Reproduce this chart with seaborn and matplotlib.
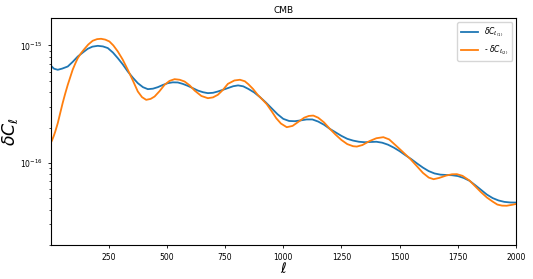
import numpy as np
import pandas as pd
import matplotlib
matplotlib.use("Agg")
import matplotlib.pyplot as plt
import seaborn as sns

# --- values (log10 of delta C_ell) ---
ell_1 = [2, 15, 31, 50, 74, 95, 117, 140, 160, 180, 203, 225, 246, 268, 289, 310,
         332, 354, 375, 397, 418, 440, 461, 483, 504, 525, 547, 568, 590, 612, 633,
         655, 676, 698, 719, 740, 762, 785, 806, 828, 850, 875, 900, 925, 950, 975,
         1000, 1025, 1050, 1075, 1100, 1125, 1150, 1175, 1200, 1225, 1250, 1275,
         1300, 1325, 1350, 1375, 1400, 1425, 1450, 1475, 1500, 1525, 1550, 1575,
         1600, 1625, 1650, 1675, 1700, 1725, 1750, 1775, 1800, 1825, 1850, 1875,
         1900, 1925, 1950, 1975, 2000]
log_dcl_1 = [-15.173, -15.198, -15.207, -15.197, -15.179, -15.14, -15.094, -15.058,
             -15.028, -15.01, -15.003, -15.008, -15.022, -15.06, -15.108, -15.16,
             -15.222, -15.275, -15.321, -15.355, -15.372, -15.368, -15.355, -15.336,
             -15.321, -15.314, -15.315, -15.327, -15.344, -15.364, -15.384, -15.398,
             -15.406, -15.403, -15.392, -15.378, -15.363, -15.347, -15.34, -15.348,
             -15.37, -15.40, -15.44, -15.485, -15.535, -15.585, -15.625, -15.643,
             -15.645, -15.638, -15.63, -15.63, -15.648, -15.675, -15.71, -15.74,
             -15.77, -15.795, -15.81, -15.82, -15.824, -15.822, -15.82, -15.828,
             -15.845, -15.87, -15.9, -15.935, -15.968, -16.005, -16.04, -16.07,
             -16.09, -16.1, -16.103, -16.105, -16.112, -16.128, -16.152, -16.19,
             -16.23, -16.27, -16.3, -16.32, -16.332, -16.337, -16.338]

ell_2 = [2, 6, 13, 20, 31, 41, 52, 63, 74, 85, 95, 106, 117, 130, 145, 162, 181,
         200, 217, 235, 253, 270, 289, 310, 332, 354, 375, 393, 411, 430, 447, 468,
         490, 511, 533, 555, 576, 598, 619, 648, 676, 698, 719, 740, 762, 790, 814,
         835, 850, 870, 890, 910, 929, 950, 970, 990, 1015, 1040, 1065, 1090, 1110,
         1129, 1150, 1175, 1200, 1225, 1250, 1275, 1300, 1316, 1340, 1370, 1400,
         1430, 1455, 1480, 1510, 1545, 1575, 1600, 1625, 1646, 1670, 1700, 1725,
         1746, 1770, 1800, 1825, 1850, 1875, 1900, 1920, 1940, 1960, 1980, 2000]
log_dcl_2 = [-15.825, -15.81, -15.775, -15.735, -15.662, -15.58, -15.491, -15.41,
             -15.335, -15.268, -15.207, -15.155, -15.108, -15.068, -15.031, -14.992,
             -14.96, -14.946, -14.943, -14.95, -14.966, -15.0, -15.051, -15.12,
             -15.207, -15.3, -15.392, -15.44, -15.463, -15.455, -15.435, -15.39,
             -15.335, -15.302, -15.287, -15.292, -15.307, -15.34, -15.384, -15.43,
             -15.449, -15.442, -15.42, -15.38, -15.327, -15.298, -15.292, -15.305,
             -15.33, -15.37, -15.42, -15.46, -15.5, -15.56, -15.62, -15.665, -15.696,
             -15.685, -15.65, -15.615, -15.6, -15.597, -15.615, -15.655, -15.71,
             -15.76, -15.805, -15.84, -15.858, -15.861, -15.848, -15.815, -15.79,
             -15.781, -15.8, -15.845, -15.9, -15.965, -16.03, -16.085, -16.125,
             -16.139, -16.128, -16.108, -16.097, -16.096, -16.11, -16.15, -16.2,
             -16.25, -16.295, -16.33, -16.355, -16.364, -16.365, -16.358, -16.35]

labels = [r"$\delta C_{\ell_{(1)}}$", r"- $\delta C_{\ell_{(2)}}$"]

df = pd.concat([
    pd.DataFrame({"ell": ell_1, "dcl": 10.0 ** np.array(log_dcl_1), "series": labels[0]}),
    pd.DataFrame({"ell": ell_2, "dcl": 10.0 ** np.array(log_dcl_2), "series": labels[1]}),
])

fig = plt.figure(figsize=(5.33, 2.79), dpi=100)
ax = fig.add_axes([0.0957, 0.122, 0.8724, 0.812])

sns.lineplot(data=df, x="ell", y="dcl", hue="series", palette=["#1f77b4", "#ff7f0e"],
             linewidth=1.3, ax=ax)

ax.set_yscale("log")
ax.set_xlim(2, 2000)
ax.set_ylim(2.0e-17, 1.7e-15)
ax.set_xticks([250, 500, 750, 1000, 1250, 1500, 1750, 2000])
ax.tick_params(labelsize=5.5, length=2.5, width=0.6)
ax.tick_params(which="minor", length=1.5, width=0.5)
for s in ax.spines.values():
    s.set_linewidth(0.8)

ax.set_title("CMB", fontsize=6.5, pad=4)
ax.set_xlabel(r"$\ell$", fontsize=10)
ax.xaxis.set_label_coords(0.5, -0.07)
ax.set_ylabel(r"$\delta C_\ell$", fontsize=12.5)
ax.yaxis.set_label_coords(-0.066, 0.5)
ax.legend(title=None, fontsize=5.5, loc="upper right", handlelength=2.2,
          borderpad=0.5, labelspacing=0.6)

fig.savefig("out.png", dpi=100)
